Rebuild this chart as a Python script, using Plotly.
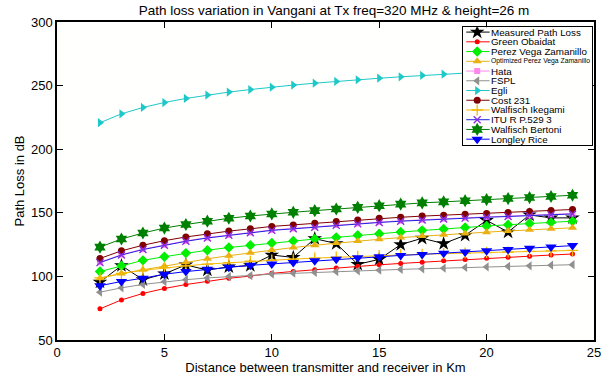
import plotly.graph_objects as go

# ---------------- data ----------------
distance_km = list(range(2, 25))

measured = [95.5, 108.5, 97.4, 102.0, 109.0, 105.0, 107.5, 108.5, 116.8, 114.9, 129.7, 125.8,
            109.5, 113.4, 125.0, 130.0, 125.8, 132.3, 144.0, 134.9, 148.3, 146.0, 146.0]
green_obaidat = [74.5, 81.5, 86.6, 90.5, 93.6, 96.2, 98.5, 100.3, 102.4, 103.9, 105.3, 106.7,
                 108.0, 109.1, 110.2, 111.2, 112.4, 113.3, 114.2, 115.1, 115.9, 116.8, 117.6]
perez_vega = [103.8, 108.4, 112.6, 115.5, 118.3, 120.6, 122.7, 124.5, 126.3, 127.9, 129.4, 130.7,
              132.3, 133.5, 134.9, 136.2, 137.3, 138.5, 139.6, 140.6, 141.6, 142.5, 143.4]
opt_perez_vega = [98.6, 102.2, 105.2, 108.2, 111.2, 113.8, 116.3, 118.6, 120.8, 122.7, 124.5, 126.2,
                  127.8, 129.2, 130.5, 131.7, 132.8, 133.8, 134.8, 135.7, 136.6, 137.4, 138.2]
hata = [111.1, 117.1, 121.4, 124.8, 127.9, 130.5, 132.6, 134.6, 136.5, 137.7, 139.0, 140.4,
        141.6, 142.7, 143.7, 144.6, 145.4, 146.1, 146.8, 147.4, 148.1, 148.8, 149.4]
fspl = [87.6, 91.0, 93.7, 95.8, 97.4, 98.8, 100.0, 100.7, 101.8, 102.5, 103.1, 103.8,
        104.4, 104.9, 105.5, 106.0, 106.5, 107.0, 107.4, 107.9, 108.3, 108.8, 109.2]
egli = [220.8, 227.8, 232.8, 236.7, 239.9, 242.6, 244.9, 246.9, 248.8, 250.4, 251.9, 253.3,
        254.6, 255.8, 256.9, 258.0, 259.0, 259.9, 260.8, 261.6, 262.4, 263.2, 264.0]
cost231 = [114.1, 120.1, 124.5, 128.1, 131.0, 133.5, 135.6, 137.4, 139.3, 140.5, 141.8, 143.2,
           144.4, 145.7, 146.5, 147.4, 148.1, 148.8, 149.5, 150.3, 151.0, 151.8, 152.6]
walfisch_ikegami = [98.8, 102.3, 104.8, 106.8, 108.3, 109.7, 110.8, 111.9, 112.8, 113.6, 114.4, 115.1,
                    115.7, 116.3, 116.9, 117.4, 117.9, 118.4, 118.8, 119.2, 119.6, 120.0, 120.4]
itu_r = [110.8, 116.8, 121.1, 124.5, 127.6, 130.2, 132.3, 134.3, 136.2, 137.4, 138.7, 140.1,
         141.3, 142.4, 143.4, 144.3, 145.1, 145.8, 146.5, 147.1, 147.8, 148.5, 149.1]
walfisch_bertoni = [123.0, 129.4, 134.1, 138.0, 140.8, 143.4, 145.7, 147.5, 149.1, 150.4, 151.7, 153.0,
                    154.3, 155.6, 156.8, 157.8, 158.6, 159.5, 160.4, 161.2, 162.0, 162.8, 163.8]
longley_rice = [92.7, 96.0, 98.6, 101.7, 103.8, 105.6, 107.1, 108.7, 109.8, 111.0, 112.3, 113.4,
                114.7, 115.5, 116.5, 117.3, 118.2, 119.1, 120.2, 121.2, 122.2, 123.2, 124.2]

series_names = ["Measured Path Loss", "Green Obaidat", "Perez Vega Zamanillo",
                "Optimized Perez Vega Zamanillo", "Hata", "FSPL", "Egli", "Cost 231",
                "Walfisch Ikegami", "ITU R P.529 3", "Walfisch Bertoni", "Longley Rice"]
series_values = [measured, green_obaidat, perez_vega, opt_perez_vega, hata, fspl, egli,
                 cost231, walfisch_ikegami, itu_r, walfisch_bertoni, longley_rice]

x_ticks = [0, 5, 10, 15, 20, 25]
y_ticks = [50, 100, 150, 200, 250, 300]

# ---------------- styles ----------------
styles = [
    dict(color="#000000", symbol="star", size=11, mcolor="#000000"),
    dict(color="#ff0000", symbol="circle", size=5, mcolor="#ff0000"),
    dict(color="#00ee00", symbol="diamond", size=8, mcolor="#00ee00"),
    dict(color="#e8b010", symbol="triangle-up", size=8, mcolor="#e8b010"),
    dict(color="#ff88ee", symbol="square", size=6, mcolor="#ff88ee"),
    dict(color="#909090", symbol="triangle-left", size=8, mcolor="#909090"),
    dict(color="#1ec8c8", symbol="triangle-right", size=8, mcolor="#1ec8c8"),
    dict(color="#800000", symbol="circle", size=7, mcolor="#800000"),
    dict(color="#f5b800", symbol="cross-thin", size=8, mcolor="#f5b800"),
    dict(color="#2020e0", symbol="x-thin", size=7, mcolor="#8a2be2"),
    dict(color="#008000", symbol="hexagram", size=10, mcolor="#008000"),
    dict(color="#0000ff", symbol="triangle-down", size=10, mcolor="#0000ff"),
]

FONT = "Liberation Sans, Arial, sans-serif"
AX_FONT = 13

fig = go.Figure()

for name, vals, st in zip(series_names, series_values, styles):
    thin = st["symbol"].endswith("-thin")
    fig.add_trace(go.Scatter(
        x=distance_km, y=vals, name=name, mode="lines+markers",
        line=dict(color=st["color"], width=1),
        marker=dict(symbol=st["symbol"], size=st["size"], color=st["mcolor"],
                    line=dict(color=st["mcolor"], width=1.3 if thin else 0)),
        showlegend=False, xaxis="x", yaxis="y"))

# ---------------- custom compact legend (separate inset subplot) ----------------
n = len(series_names)
for i, (name, st) in enumerate(zip(series_names, styles)):
    yy = i + 0.5
    thin = st["symbol"].endswith("-thin")
    fig.add_trace(go.Scatter(x=[3.5, 27.0], y=[yy, yy], mode="lines",
                             line=dict(color=st["color"], width=1),
                             showlegend=False, hoverinfo="skip", xaxis="x2", yaxis="y2"))
    fig.add_trace(go.Scatter(x=[14.5], y=[yy], mode="markers",
                             marker=dict(symbol=st["symbol"], size=st["size"], color=st["mcolor"],
                                         line=dict(color=st["mcolor"], width=1.3 if thin else 0)),
                             showlegend=False, hoverinfo="skip", xaxis="x2", yaxis="y2"))
    small = name.startswith("Optimized")
    fig.add_annotation(x=27.8, y=yy, xref="x2", yref="y2", text=name, showarrow=False,
                       xanchor="left", yanchor="middle",
                       font=dict(family=FONT, size=6.8 if small else 9.8, color="black"),
                       borderpad=0)

axis_common = dict(showline=True, linecolor="black", linewidth=1.5, mirror="ticks",
                   ticks="inside", ticklen=6, tickcolor="black", tickwidth=1,
                   showgrid=False, zeroline=False,
                   tickfont=dict(family=FONT, size=AX_FONT, color="black"))

fig.update_layout(
    width=613, height=383,
    margin=dict(l=57, r=16.5, t=22, b=39),
    paper_bgcolor="white", plot_bgcolor="rgb(255,255,254)",
    title=dict(text="Path loss variation in Vangani at Tx freq=320 MHz & height=26 m",
               font=dict(family=FONT, size=13.5, color="black"),
               x=0.545, xanchor="center", y=0.974, yanchor="middle"),
    xaxis=dict(range=[0, 25], tickvals=x_ticks, domain=[0, 1],
               title=dict(text="Distance between transmitter and receiver in Km",
                          font=dict(family=FONT, size=AX_FONT, color="black"), standoff=2),
               **axis_common),
    yaxis=dict(range=[50, 300], tickvals=y_ticks, domain=[0, 1],
               title=dict(text="Path Loss in dB",
                          font=dict(family=FONT, size=AX_FONT, color="black"), standoff=3),
               **axis_common),
    xaxis2=dict(domain=[0.7556, 0.9972], range=[0, 130.3], anchor="y2",
                showline=True, mirror=True, linecolor="black", linewidth=1,
                showticklabels=False, ticks="", showgrid=False, zeroline=False),
    yaxis2=dict(domain=[0.6131, 0.9836], range=[n + 0.1, 0], anchor="x2",
                showline=True, mirror=True, linecolor="black", linewidth=1,
                showticklabels=False, ticks="", showgrid=False, zeroline=False),
    showlegend=False,
)

fig.write_html("out.html")
